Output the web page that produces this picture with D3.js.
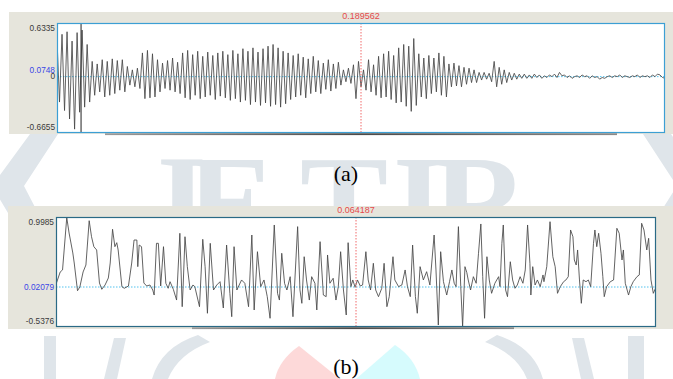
<!DOCTYPE html>
<html>
<head>
<meta charset="utf-8">
<script src="https://cdn.jsdelivr.net/npm/d3@7"></script>
<style>
  body { margin: 0; background: #fff; }
  svg { display: block; }
</style>
</head>
<body>
<div id="chart"></div>
<script>
/**
 * DATA
 * values
 * */

// (a) one value per half cycle, evenly spaced over the panel
const ampA = [
  0.44,-0.30,0.50,-0.40,0.53,-0.50,0.42,-0.62,0.52,-0.42,
  0.55,-0.36,0.38,-0.30,0.18,-0.22,0.15,-0.18,0.20,-0.24,
  0.18,-0.22,0.21,-0.20,0.19,-0.16,0.20,-0.18,0.12,-0.10,
  0.08,-0.12,0.10,-0.14,0.28,-0.26,0.31,-0.25,0.27,-0.24,
  0.20,-0.18,0.16,-0.14,0.19,-0.16,0.22,-0.18,0.17,-0.20,
  0.28,-0.25,0.31,-0.27,0.26,-0.22,0.30,-0.26,0.24,-0.24,
  0.29,-0.22,0.25,-0.27,0.28,-0.23,0.30,-0.25,0.26,-0.28,
  0.31,-0.26,0.27,-0.30,0.33,-0.28,0.30,-0.33,0.34,-0.30,
  0.29,-0.34,0.33,-0.31,0.36,-0.35,0.38,-0.33,0.34,-0.36,
  0.30,-0.32,0.28,-0.27,0.25,-0.24,0.27,-0.22,0.23,-0.25,
  0.21,-0.20,0.24,-0.18,0.19,-0.20,0.16,-0.15,0.20,-0.17,
  0.15,-0.14,0.17,-0.10,0.08,-0.06,0.10,-0.08,0.14,-0.26,
  0.18,-0.12,0.08,-0.16,0.20,-0.18,0.14,-0.22,0.24,-0.25,
  0.27,-0.24,0.30,-0.27,0.25,-0.31,0.34,-0.30,0.38,-0.35,
  0.36,-0.41,0.45,-0.34,0.27,-0.24,0.22,-0.26,0.25,-0.20,
  0.22,-0.18,0.28,-0.22,0.24,-0.24,0.15,-0.12,0.16,-0.11,
  0.13,-0.12,0.11,-0.09,0.10,-0.07,0.08,-0.07,0.05,-0.04,
  0.05,-0.03,0.04,-0.06,0.18,-0.12,0.11,-0.09,0.08,-0.07,
  0.05,-0.04,0.04,-0.03,0.03,-0.02,0.03,-0.02,0.02,-0.02,
  0.03,-0.01,0.02,-0.02,0.01,-0.01,0.02,0.00,0.03,-0.01,
  0.05,0.01,0.02,-0.01,0.01,-0.02,0.00,0.01,-0.01,0.02,
  0.00,0.01,-0.02,0.01,-0.01,0.00,-0.03,-0.01,-0.02,0.00,
  0.01,-0.01,0.01,0.00,0.02,-0.01,0.01,0.00,-0.01,0.01,
  0.00,0.02,-0.01,0.01,0.00,0.01,-0.01,0.02,0.00,0.03,
  0.02,-0.01,-0.02
];
const durationA = 379.124;   // ms
const cursorA = 15.0;        // ms, black play cursor
const markerA = 189.562;     // ms, red centre marker
const ticksA = [0.6335, 0.0748, 0, -0.6655];
const rangeA = [-0.6655, 0.6335];
const refA = 0;
const highlightA = 0.0748;

// (b) time (ms) and amplitude of the turning points
const timeB = [
  0.1,0.9,1.4,2.3,2.8,3.2,3.6,3.9,4.6,5.1,
  5.8,6.4,7.1,7.6,8.1,8.7,9.3,9.8,10.5,11.2,
  11.6,12.1,12.6,13.0,13.3,14.1,14.6,15.5,16.2,16.7,
  17.3,17.5,17.8,18.3,18.8,19.4,20.1,20.7,21.0,21.5,
  21.9,22.4,23.0,23.5,24.0,24.4,25.1,25.8,26.5,27.0,
  27.2,27.6,28.1,28.7,29.3,29.7,30.7,31.4,31.9,32.4,
  33.0,33.7,34.4,35.1,35.8,36.5,37.2,37.6,38.1,38.7,
  39.2,39.7,40.4,41.2,41.9,42.4,43.1,43.8,44.5,45.2,
  45.8,46.7,47.4,47.8,48.3,48.9,49.4,50.1,50.7,51.7,
  52.2,52.6,53.1,53.6,54.2,54.7,55.4,55.8,56.5,57.2,
  57.8,58.1,58.6,59.3,59.9,60.4,60.9,61.5,62.1,62.5,
  63.1,63.5,64.0,64.5,65.1,65.6,66.3,66.8,67.3,67.9,
  68.4,69.0,69.7,70.2,70.8,71.3,72.1,72.5,73.3,74.0,
  74.7,75.2,75.8,76.3,76.9,77.3,77.9,78.6,79.3,80.0,
  80.9,81.3,81.8,82.3,82.9,83.6,84.2,84.7,85.2,85.6,
  86.1,86.6,87.0,87.5,87.9,88.2,88.7,89.3,89.9,90.4,
  90.9,91.3,91.7,92.2,92.7,93.2,93.9,94.7,95.0,95.4,
  95.7,96.2,96.6,97.2,97.7,98.2,98.7,99.3,99.9,100.4,
  100.9,101.4,101.6,102.0,102.5,103.0,103.6,104.2,104.4,105.0,
  105.7,106.3,106.8,107.3,107.9,108.6,109.1,109.6,110.1,110.6,
  110.9,111.3,111.6,112.0,112.4,112.8,113.4,113.9,114.4,115.0,
  115.3,115.7,116.1,116.6,117.0,117.3,117.8,118.6,119.3,120.0,
  120.5,121.1,121.4,121.8,122.5,123.0,123.5,124.3,124.8,125.3,
  125.8,126.4,126.8,127.3,127.8,128.3
];
const ampB = [
  0.077,0.231,0.259,0.99,0.775,0.635,0.496,0.356,-0.031,0.021,
  0.231,0.328,0.947,0.723,0.584,0.538,0.077,-0.011,0.049,0.147,
  0.356,0.827,0.584,0.640,0.538,0.026,0.003,0.035,0.356,0.677,
  0.677,0.305,0.607,0.584,0.077,0.035,0.049,-0.021,-0.091,0.631,
  0.631,0.035,0.584,0.073,0.003,0.095,-0.011,-0.161,0.771,-0.254,
  0.026,0.723,0.305,-0.021,0.049,0.026,-0.254,0.687,0.305,-0.346,
  0.631,-0.021,0.049,0.095,-0.272,0.607,-0.067,-0.394,0.584,-0.021,
  0.049,0.119,0.073,-0.254,0.747,-0.300,0.514,0.026,0.119,-0.114,
  -0.416,0.887,-0.067,-0.161,0.492,0.073,-0.021,0.165,-0.394,0.864,
  -0.021,-0.207,0.444,0.119,-0.161,0.165,0.073,-0.300,0.654,-0.091,
  -0.114,0.468,0.073,0.143,-0.161,0.026,0.514,-0.021,-0.370,0.640,
  0.026,0.119,0.017,0.119,0.035,0.049,0.514,0.119,-0.021,0.352,
  -0.021,-0.114,0.003,0.352,-0.254,-0.114,0.444,0.119,0.026,0.049,
  0.259,0.026,-0.114,0.607,-0.114,-0.346,0.305,0.119,0.235,0.049,
  0.747,0.259,-0.510,0.514,0.095,-0.091,0.095,0.259,0.073,0.026,
  0.864,0.026,-0.533,0.305,0.221,0.119,-0.021,0.165,0.073,0.492,
  0.901,0.165,-0.416,0.444,0.119,-0.067,0.073,0.165,0.026,0.631,
  0.887,-0.021,-0.114,0.374,0.119,0.003,0.049,0.165,0.073,0.259,
  0.887,0.352,-0.091,0.305,0.049,0.119,0.026,0.189,0.095,0.305,
  0.933,0.444,0.305,-0.067,0.026,0.095,0.119,0.165,0.817,0.723,
  0.398,0.328,0.538,0.119,-0.207,0.119,0.095,0.119,0.026,0.631,
  0.817,0.584,0.771,0.492,0.165,-0.114,0.026,0.095,0.119,0.841,
  0.771,0.398,0.538,0.073,-0.091,0.026,0.095,0.165,0.189,0.911,
  0.817,0.538,0.701,0.119,-0.067,0.007
];
const durationB = 128.374;   // ms
const markerB = 64.187;      // ms
const ticksB = [0.9985, 0.02079, -0.5376];
const rangeB = [-0.5376, 0.9985];
const refB = 0.02079;
const highlightB = 0.02079;

/**
 * SETUP
 * */
const width = 673, height = 379;
const sansFont = "'Liberation Sans', Arial, sans-serif";
const serifFont = "'Liberation Serif', 'Times New Roman', serif";

const svg = d3.select("#chart")
  .append("svg")
  .attr("width", width)
  .attr("height", height);

const defs = svg.append("defs");
const grad = defs.append("linearGradient").attr("id", "scrollGrad");
grad.append("stop").attr("offset", "0%").attr("stop-color", "#9a9a9a");
grad.append("stop").attr("offset", "50%").attr("stop-color", "#4a4a4a");
grad.append("stop").attr("offset", "100%").attr("stop-color", "#8a8a8a");

// watermark behind the figure
const wm = svg.append("g").attr("fill", "#dfe5ea");
wm.append("text")
  .attr("x", "140 187 300 393 433")
  .attr("y", 246)
  .attr("font-family", serifFont)
  .attr("font-weight", "bold")
  .attr("font-size", 132)
  .text("JETIR");
wm.append("path").attr("d", "M30,134 L58,134 L24,186 L52,240 L24,240 L-8,186 Z");
wm.append("path").attr("d", "M643,134 L671,134 L705,186 L671,240 L643,240 L677,186 Z");
wm.append("path").attr("d", "M44,336 L56,336 L56,379 L44,379 Z");
wm.append("path").attr("d", "M104,379 L114,338 L126,338 L117,379 Z");
wm.append("path").attr("d", "M152,379 Q161,347 198,335 L210,342 Q178,354 168,379 Z");
wm.append("path").attr("d", "M594,379 L584,338 L572,338 L581,379 Z");
wm.append("path").attr("d", "M543,379 Q534,347 497,335 L485,342 Q517,354 527,379 Z");
wm.append("path").attr("d", "M628,336 L644,336 L644,379 L628,379 Z");
svg.append("path").attr("fill", "#fdd9d9")
  .attr("d", "M299,346 L340,379 L275,379 Q279,360 299,346 Z");
svg.append("path").attr("fill", "#d6fbfd")
  .attr("d", "M395,345 L356,379 L420,379 Q415,358 395,345 Z");

const panels = [
  {
    id: "a", panel: [9, 12, 673, 134], plot: [57, 23, 665, 133],
    trace: ampA.map((v, i) => ({ t: i * durationA / (ampA.length - 1), v: v })),
    duration: durationA, range: rangeA, ticks: ticksA, ref: refA, highlight: highlightA,
    marker: markerA, cursor: cursorA, border: "#3c9fd4",
    scroll: [105, 617], caption: "(a)", capY: 181
  },
  {
    id: "b", panel: [8, 206, 673, 329], plot: [56, 217, 656, 327],
    trace: d3.zip(timeB, ampB).map(([t, v]) => ({ t: t, v: v })),
    duration: durationB, range: rangeB, ticks: ticksB, ref: refB, highlight: highlightB,
    marker: markerB, cursor: null, border: "#2a6a86",
    scroll: [192, 514], caption: "(b)", capY: 374
  }
];

panels.forEach(drawPanel);

/**
 * DRAW ONE WAVEFORM PANEL
 * */
function drawPanel(p) {
  const g = svg.append("g").attr("class", "panel-" + p.id);
  const [px0, py0, px1, py1] = p.panel;
  const [x0, y0, x1, y1] = p.plot;

  g.append("rect")
    .attr("x", px0).attr("y", py0)
    .attr("width", px1 - px0).attr("height", py1 - py0)
    .attr("fill", "#e6e5dc");

  g.append("rect")
    .attr("x", x0).attr("y", y0)
    .attr("width", x1 - x0).attr("height", y1 - y0)
    .attr("fill", "#fff");

  const xScale = d3.scaleLinear().domain([0, p.duration]).range([x0, x1]);
  const yScale = d3.scaleLinear().domain(p.range).range([y1, y0]);

  g.append("clipPath").attr("id", "clip-" + p.id)
    .append("rect")
    .attr("x", x0).attr("y", y0)
    .attr("width", x1 - x0).attr("height", y1 - y0);

  const inner = g.append("g").attr("clip-path", `url(#clip-${p.id})`);

  // blue dotted reference line
  inner.append("line")
    .attr("x1", x0).attr("x2", x1)
    .attr("y1", yScale(p.ref)).attr("y2", yScale(p.ref))
    .attr("stroke", "#52c2ee")
    .attr("stroke-width", 1)
    .attr("stroke-dasharray", "1.5,1.5");

  // waveform
  const line = d3.line()
    .x(d => xScale(d.t))
    .y(d => yScale(d.v));

  inner.append("path")
    .datum(p.trace)
    .attr("d", line)
    .attr("fill", "none")
    .attr("stroke", "#474747")
    .attr("stroke-width", 0.85)
    .attr("stroke-linejoin", "round");

  // red centre marker
  inner.append("line")
    .attr("x1", xScale(p.marker)).attr("x2", xScale(p.marker))
    .attr("y1", y0).attr("y2", y1)
    .attr("stroke", "#f06a6a")
    .attr("stroke-width", 1)
    .attr("stroke-dasharray", "1.5,1.5");

  if (p.cursor !== null) {
    inner.append("line")
      .attr("x1", xScale(p.cursor)).attr("x2", xScale(p.cursor))
      .attr("y1", y0).attr("y2", y1)
      .attr("stroke", "#222")
      .attr("stroke-width", 1);
  }

  g.append("text")
    .attr("x", xScale(p.marker))
    .attr("y", y0 - 4)
    .attr("text-anchor", "middle")
    .attr("font-family", sansFont)
    .attr("font-size", 9)
    .attr("fill", "#e5484b")
    .text(d3.format(".6f")(p.marker / 1000));

  // plot frame
  g.append("rect")
    .attr("x", x0 + 0.5).attr("y", y0 + 0.5)
    .attr("width", x1 - x0 - 1).attr("height", y1 - y0 - 1)
    .attr("fill", "none")
    .attr("stroke", p.border)
    .attr("stroke-width", 1.2);

  // scroll bar shadow under the plot
  g.append("rect")
    .attr("x", p.scroll[0]).attr("y", y1 + 0.3)
    .attr("width", p.scroll[1] - p.scroll[0]).attr("height", 1.8)
    .attr("fill", "url(#scrollGrad)");

  // value labels on the left
  const yAxis = d3.axisLeft(yScale)
    .tickValues(p.ticks)
    .tickSize(0)
    .tickPadding(2)
    .tickFormat(d => String(d));

  const ag = g.append("g")
    .attr("transform", `translate(${x0},0)`)
    .call(yAxis)
    .attr("font-family", sansFont)
    .attr("font-size", 8.3);
  ag.select(".domain").remove();
  ag.selectAll(".tick")
    .attr("transform", d => `translate(0,${Math.max(y0 + 5, Math.min(y1 - 6, yScale(d)))})`);
  ag.selectAll(".tick text")
    .attr("fill", d => d === p.highlight ? "#3b46e6" : "#3a3a3a");

  svg.append("text")
    .attr("x", 346)
    .attr("y", p.capY)
    .attr("text-anchor", "middle")
    .attr("font-family", serifFont)
    .attr("font-size", 22)
    .attr("fill", "#000")
    .text(p.caption);
}
</script>
</body>
</html>
